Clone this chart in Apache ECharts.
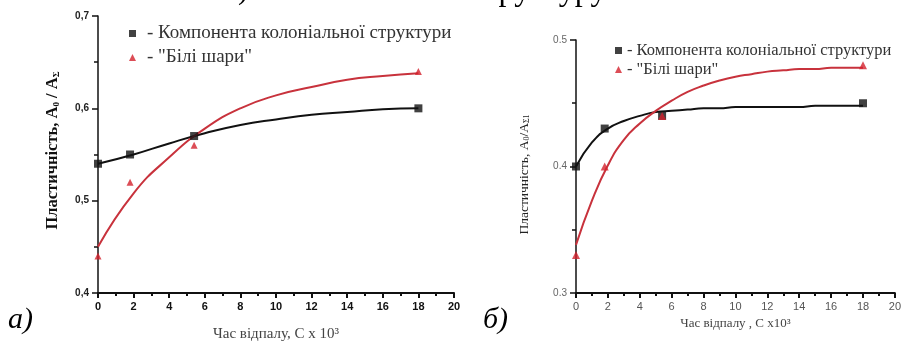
<!DOCTYPE html>
<html>
<head>
<meta charset="utf-8">
<script src="https://cdn.jsdelivr.net/npm/echarts@6/dist/echarts.min.js"></script>
<style>
  html, body { margin: 0; padding: 0; background: #fff; }
  #chart { width: 904px; height: 347px; }
</style>
</head>
<body>
<div id="chart"></div>
<script>
  // точки вимірювань
  const timeX = [0, 1.8, 5.4, 18];
  // панель а)
  const colonialA = [0.54, 0.55, 0.57, 0.60];
  const whiteA = [0.44, 0.52, 0.56, 0.64];
  // панель б)
  const colonialB = [0.40, 0.43, 0.44, 0.45];
  const whiteB = [0.33, 0.40, 0.44, 0.48];

  // апроксимуючі криві
  const fitXA = [0, 2, 4, 6, 8, 10, 12, 14, 16, 18];
  const fitColonialA = [0.540, 0.550, 0.562, 0.573, 0.582, 0.588, 0.593, 0.596, 0.599, 0.600];
  const fitWhiteA = [0.450, 0.508, 0.547, 0.578, 0.600, 0.614, 0.623, 0.631, 0.635, 0.638];
  const fitXB = [0, 1, 2, 3, 4, 5, 6, 7, 8, 9, 10, 11, 12, 13, 14, 15, 16, 17, 18];
  const fitColonialB = [0.400, 0.419, 0.430, 0.436, 0.440, 0.443, 0.444, 0.445, 0.446, 0.446,
    0.447, 0.447, 0.447, 0.447, 0.447, 0.448, 0.448, 0.448, 0.448];
  const fitWhiteB = [0.338, 0.373, 0.401, 0.421, 0.434, 0.444, 0.452, 0.459, 0.464, 0.468,
    0.471, 0.473, 0.475, 0.476, 0.477, 0.477, 0.478, 0.478, 0.478];

  const yTicksA = [0.4, 0.5, 0.6, 0.7];
  const yTicksB = [0.3, 0.4, 0.5];

  const nameColonial = "- Компонента колоніальної структури";
  const nameWhite = "- \"Білі шари\"";

  const pairs = (xs, ys) => xs.map((x, i) => [x, ys[i]]);

  const BLACK = "#111";
  const RED = "#d3202c";
  const RED_LINE = "#c8323c";

  const myChart = echarts.init(document.getElementById("chart"));

  const xAxisBase = (gridIndex, name, nameGap, nameSize, labelStyle) => ({
    gridIndex: gridIndex,
    type: "value",
    min: 0,
    max: 20,
    interval: 2,
    name: name,
    nameLocation: "middle",
    nameGap: nameGap,
    nameTextStyle: { fontFamily: "Liberation Serif", fontSize: nameSize, color: "#444" },
    axisLine: { lineStyle: { color: BLACK, width: 2 } },
    axisTick: { length: 5, lineStyle: { color: BLACK, width: 2 } },
    minorTick: { show: true, splitNumber: 2, length: 3, lineStyle: { color: BLACK, width: 2 } },
    splitLine: { show: false },
    axisLabel: labelStyle
  });

  const fitLine = (axis, xs, ys, color) => ({
    type: "line", xAxisIndex: axis, yAxisIndex: axis,
    smooth: true, showSymbol: false,
    lineStyle: { color: color, width: 2 }, data: pairs(xs, ys), z: 2
  });

  const option = {
    animation: false,
    graphic: [
      // обрізаний рядок тексту над рисунком
      { type: "text", left: 238, top: -24, style: { text: ")", font: "30px 'Liberation Serif'", fill: "#000" } },
      { type: "text", left: 470, top: -24, style: { text: "структуру", font: "32px 'Liberation Serif'", fill: "#000" } },
      { type: "text", left: 8, top: 305, style: { text: "а)", font: "italic 30px 'Liberation Serif'", fill: "#000" } },
      { type: "text", left: 483, top: 305, style: { text: "б)", font: "italic 30px 'Liberation Serif'", fill: "#000" } }
    ],
    legend: [
      {
        left: 124,
        top: 19,
        orient: "vertical",
        itemGap: 5,
        itemWidth: 7,
        itemHeight: 7,
        textStyle: { fontFamily: "Liberation Serif", fontSize: 19, color: "#333", padding: [0, 0, 0, 6] },
        data: [
          { name: nameColonial, icon: "rect", itemStyle: { color: BLACK } },
          { name: nameWhite, icon: "triangle", itemStyle: { color: RED } }
        ]
      },
      {
        left: 610,
        top: 37,
        orient: "vertical",
        itemGap: 2,
        itemWidth: 7,
        itemHeight: 7,
        textStyle: { fontFamily: "Liberation Serif", fontSize: 16.5, color: "#333" },
        data: [
          { name: nameColonial, icon: "rect", itemStyle: { color: BLACK } },
          { name: nameWhite, icon: "triangle", itemStyle: { color: RED } }
        ]
      }
    ],
    grid: [
      { left: 98, right: 450, top: 16, bottom: 54 },
      { left: 576, right: 3, top: 40, bottom: 54 }
    ],
    xAxis: [
      xAxisBase(0, "Час відпалу, С x 10³", 34, 15,
        { fontFamily: "Liberation Sans", fontWeight: "bold", fontSize: 11, color: "#111", margin: 8 }),
      xAxisBase(1, "Час відпалу , С x10³", 22, 13,
        { fontFamily: "Liberation Sans", fontSize: 11, color: "#555", margin: 8 })
    ],
    yAxis: [
      {
        gridIndex: 0,
        type: "value",
        min: yTicksA[0],
        max: yTicksA[yTicksA.length - 1],
        interval: 0.1,
        name: "{a|Пластичність, A}{s|0}{a| / A}{s|Σ}",
        nameLocation: "middle",
        nameGap: 37,
        nameTextStyle: {
          padding: [0, 0, 0, 8],
          rich: {
            a: { fontFamily: "Liberation Serif", fontWeight: "bold", fontSize: 16.5, color: "#111" },
            s: { fontFamily: "Liberation Serif", fontWeight: "bold", fontSize: 9, color: "#111", padding: [8, 0, 0, 0] }
          }
        },
        axisLine: { show: true, lineStyle: { color: BLACK, width: 1.5 } },
        axisTick: { show: true, length: 6, lineStyle: { color: BLACK, width: 1.5 } },
        minorTick: { show: true, splitNumber: 2, length: 4, lineStyle: { color: BLACK, width: 1.5 } },
        splitLine: { show: false },
        axisLabel: {
          fontFamily: "Liberation Sans", fontWeight: "bold", fontSize: 10, color: "#222", margin: 9,
          formatter: (v) => v.toFixed(1).replace(".", ",")
        }
      },
      {
        gridIndex: 1,
        type: "value",
        min: yTicksB[0],
        max: yTicksB[yTicksB.length - 1],
        interval: 0.1,
        name: "{a|Пластичність, A}{s|0}{a|/A}{s|Σ1}",
        nameLocation: "middle",
        nameGap: 45,
        nameTextStyle: {
          padding: [0, 16, 0, 0],
          rich: {
            a: { fontFamily: "Liberation Serif", fontSize: 13.5, color: "#222" },
            s: { fontFamily: "Liberation Serif", fontSize: 8, color: "#222", padding: [6, 0, 0, 0] }
          }
        },
        axisLine: { show: true, lineStyle: { color: BLACK, width: 1.5 } },
        axisTick: { show: true, length: 6, lineStyle: { color: BLACK, width: 1.5 } },
        minorTick: { show: true, splitNumber: 2, length: 4, lineStyle: { color: BLACK, width: 1.5 } },
        splitLine: { show: false },
        axisLabel: {
          fontFamily: "Liberation Sans", fontSize: 10, color: "#666", margin: 9,
          formatter: (v) => v.toFixed(1)
        }
      }
    ],
    series: [
      // а)
      fitLine(0, fitXA, fitColonialA, BLACK),
      fitLine(0, fitXA, fitWhiteA, RED_LINE),
      {
        name: nameColonial, type: "scatter", xAxisIndex: 0, yAxisIndex: 0,
        symbol: "rect", symbolSize: 8, itemStyle: { color: BLACK }, data: pairs(timeX, colonialA), z: 3
      },
      {
        name: nameWhite, type: "scatter", xAxisIndex: 0, yAxisIndex: 0,
        symbol: "triangle", symbolSize: 7, itemStyle: { color: RED }, data: pairs(timeX, whiteA), z: 4
      },
      // б)
      fitLine(1, fitXB, fitColonialB, BLACK),
      fitLine(1, fitXB, fitWhiteB, RED_LINE),
      {
        name: nameColonial, type: "scatter", xAxisIndex: 1, yAxisIndex: 1,
        symbol: "rect", symbolSize: 8, itemStyle: { color: BLACK }, data: pairs(timeX, colonialB), z: 3
      },
      {
        name: nameWhite, type: "scatter", xAxisIndex: 1, yAxisIndex: 1,
        symbol: "triangle", symbolSize: 8, itemStyle: { color: RED }, data: pairs(timeX, whiteB), z: 4
      }
    ]
  };

  myChart.setOption(option);

  window.addEventListener("resize", () => {
    myChart.resize();
  });
</script>
</body>
</html>
